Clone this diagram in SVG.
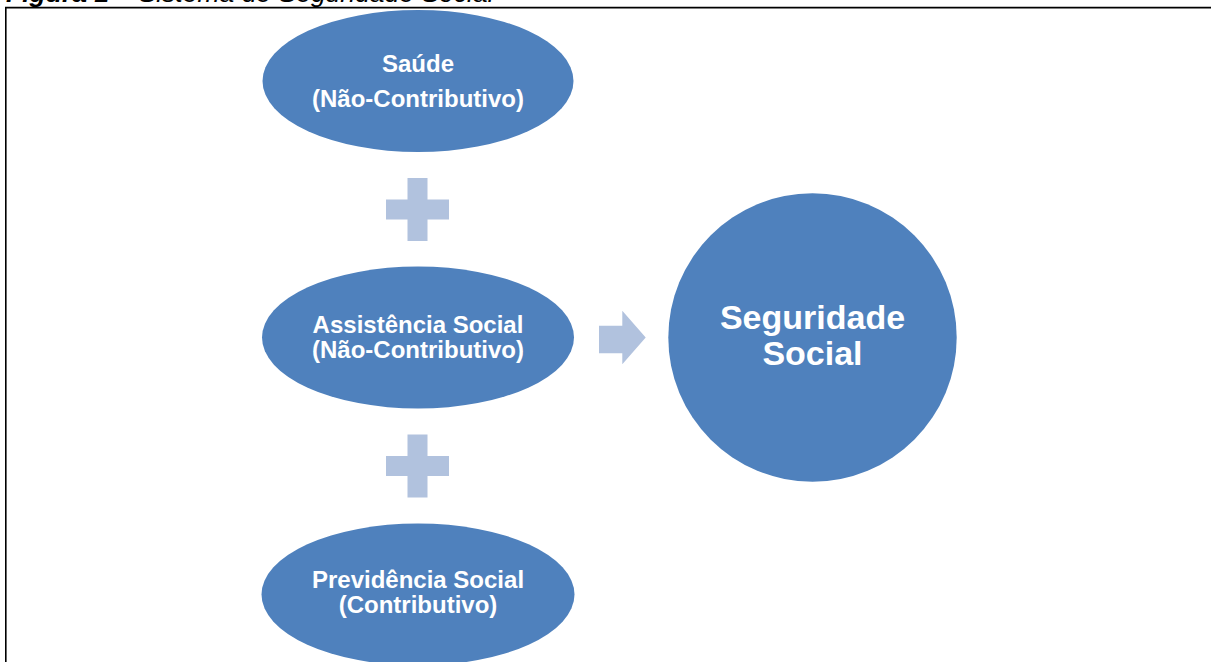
<svg xmlns="http://www.w3.org/2000/svg" width="1211" height="662" viewBox="0 0 1211 662">
<style>
.node{fill:#4F81BD;}
.lbl{font-family:"Liberation Sans",Arial,sans-serif;font-weight:bold;font-size:24px;fill:#FFFFFF;text-anchor:middle;}
.big{font-size:34px;}
.conn{fill:#B1C2DE;}
.frame{stroke:#000;stroke-width:1.6;fill:none;}
.cap{font-family:"Liberation Sans",Arial,sans-serif;font-size:26.5px;font-style:italic;fill:#000;}
</style>
<rect width="1211" height="662" fill="#FFFFFF"/>
<text class="cap" x="6" y="2"><tspan font-weight="bold">Figura 1</tspan> – Sistema de Seguridade Social</text>
<path class="frame" d="M5.8,662 V7.6 H1211"/>
<g id="connectors">
  <path class="conn" d="M407.5,178 H427.5 V199.5 H449 V219.5 H427.5 V241 H407.5 V219.5 H386 V199.5 H407.5 Z"/>
  <path class="conn" d="M407.5,434.5 H427.5 V456 H449 V476 H427.5 V497.5 H407.5 V476 H386 V456 H407.5 Z"/>
  <path class="conn" d="M599,325.7 H622.3 V310.7 L645.7,337.5 L622.3,364.3 V353.3 H599 Z"/>
</g>
<g id="saude">
  <ellipse class="node" cx="418" cy="81" rx="155.5" ry="71"/>
  <text class="lbl" x="418" y="72">Saúde</text>
  <text class="lbl" x="418" y="107">(Não-Contributivo)</text>
</g>
<g id="assistencia">
  <ellipse class="node" cx="418" cy="337.5" rx="156" ry="71"/>
  <text class="lbl" x="418" y="333">Assistência Social</text>
  <text class="lbl" x="418" y="358">(Não-Contributivo)</text>
</g>
<g id="previdencia">
  <ellipse class="node" cx="418" cy="594.5" rx="156.5" ry="71"/>
  <text class="lbl" x="418" y="588">Previdência Social</text>
  <text class="lbl" x="418" y="613">(Contributivo)</text>
</g>
<g id="seguridade">
  <circle class="node" cx="812.5" cy="337.5" r="144.2"/>
  <text class="lbl big" x="812.5" y="329">Seguridade</text>
  <text class="lbl big" x="812.5" y="365">Social</text>
</g>
</svg>
